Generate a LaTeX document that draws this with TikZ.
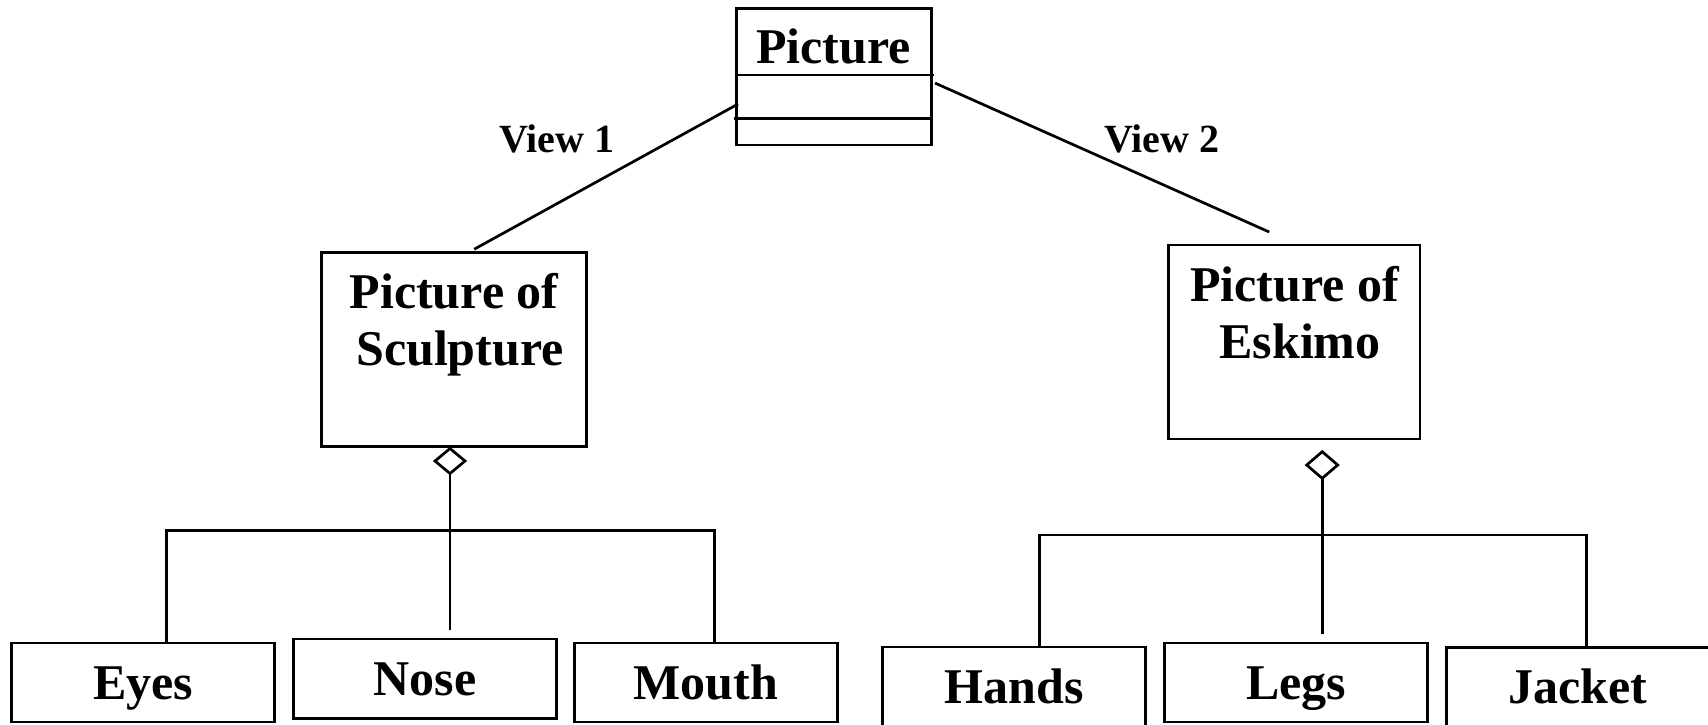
\documentclass[tikz,border=0pt]{standalone}
\usepackage{fontspec}
\setmainfont{Liberation Serif}
\usetikzlibrary{shapes.geometric,calc}
\begin{document}
\begin{tikzpicture}[x=1pt,y=-1pt,
  line width=2.7pt,
  every node/.style={inner sep=0pt,outer sep=0pt},
  cls/.style={draw,rectangle},
  part/.style={draw,rectangle,minimum width=263pt,minimum height=79pt,
    font=\fontsize{50}{57}\selectfont\bfseries,text height=37pt,text depth=4pt},
  title/.style={font=\fontsize{50}{57}\selectfont\bfseries,anchor=base},
  viewlbl/.style={font=\fontsize{40}{48}\selectfont\bfseries},
  agg/.style={draw,diamond,minimum width=30pt,minimum height=25pt,fill=white},
]
\useasboundingbox (0,0) rectangle (1708,724);

% top class with two empty compartments
\node[cls,minimum width=195pt,minimum height=136.7pt] (pic) at (834.2,76.7) {};
\node[title] (pictitle) at (833.3,63.3) {Picture};
\draw ($(pic.north west)+(0,66.7)$) -- ($(pic.north east)+(2.3,66.7)$);
\draw ($(pic.north west)+(-2.7,110)$) -- ($(pic.north east)+(0,110)$);

% the two views
\node[cls,minimum width=265pt,minimum height=194pt] (sculpt) at (454.2,349.7) {};
\node[title] (sculptA) at (454,308) {Picture of};
\node[title] (sculptB) at (460,365) {Sculpture};

\node[cls,minimum width=251.7pt,minimum height=194pt] (eskimo) at (1294.2,342) {};
\node[title] (eskimoA) at (1294.5,301) {Picture of};
\node[title] (eskimoB) at (1300,358.3) {Eskimo};

\draw ($(pic.north west)+(1.3,95.7)$) -- ($(sculpt.north)+(20,-3.5)$);
\draw ($(pic.north east)+(3.3,74.7)$) -- ($(eskimo.north)+(-25,-13)$);
\node[viewlbl] (v1) at (557,139) {View 1};
\node[viewlbl] (v2) at (1161.7,138.5) {View 2};

% aggregation diamonds
\node[agg] (aggS) at (450,461) {};
\node[agg,minimum width=31pt,minimum height=26.6pt] (aggE) at (1322.2,465) {};

% parts
\node[part] (eyes) at (143,682.5) {Eyes};
\node[part,minimum height=79.3pt] (nose) at (425,678.7) {Nose};
\node[part] (mouth) at (705.9,682.5) {Mouth};
\node[part] (hands) at (1014.2,686.5) {Hands};
\node[part] (legs) at (1296.3,682.5) {Legs};
\node[part] (jacket) at (1578.2,686.8) {Jacket};

% aggregation trees
\coordinate (barSL) at (166.7,530.8);
\coordinate (barSR) at (714.6,530.8);
\draw (eyes.north -| barSL) -- (barSL) -- (barSR) -- (mouth.north -| barSR);
\draw (aggS.south) -- ($(aggS.south |- nose.north)+(0,-9)$);

\coordinate (barEL) at (1039.2,535);
\coordinate (barER) at (1586.8,535);
\draw (hands.north -| barEL) -- (barEL) -- (barER) -- (jacket.north -| barER);
\draw (aggE.south) -- ($(aggE.south |- legs.north)+(0,-9)$);
\end{tikzpicture}
\end{document}
